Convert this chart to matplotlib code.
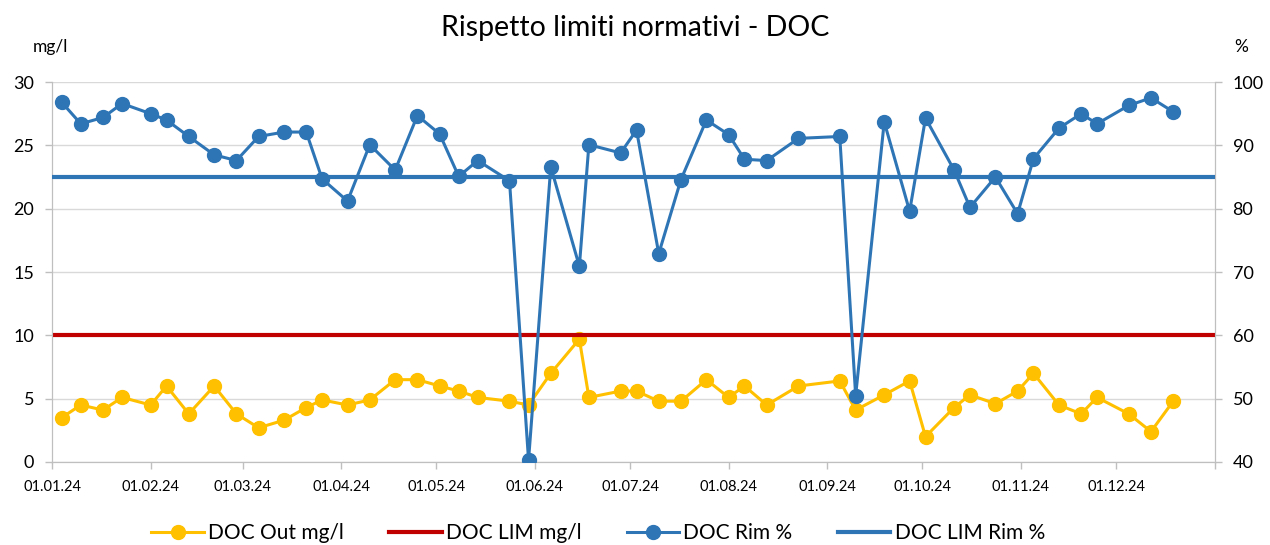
import pandas as pd
import matplotlib.pyplot as plt
import matplotlib.dates as mdates
from matplotlib.lines import Line2D

plt.rcParams['font.family'] = ['Lato', 'DejaVu Sans']

# === Data ===
dates = [
    "2024-01-04", "2024-01-10", "2024-01-17", "2024-01-23", "2024-02-01",
    "2024-02-06", "2024-02-13", "2024-02-21", "2024-02-28", "2024-03-06",
    "2024-03-14", "2024-03-21", "2024-03-26", "2024-04-03", "2024-04-10",
    "2024-04-18", "2024-04-25", "2024-05-02", "2024-05-08", "2024-05-14",
    "2024-05-24", "2024-05-30", "2024-06-06", "2024-06-15", "2024-06-18",
    "2024-06-28", "2024-07-03", "2024-07-10", "2024-07-17", "2024-07-25",
    "2024-08-01", "2024-08-06", "2024-08-13", "2024-08-23", "2024-09-05",
    "2024-09-10", "2024-09-19", "2024-09-27", "2024-10-02", "2024-10-11",
    "2024-10-16", "2024-10-24", "2024-10-31", "2024-11-05", "2024-11-13",
    "2024-11-20", "2024-11-25", "2024-12-05", "2024-12-12", "2024-12-19",
]
doc_out = [
    3.5, 4.5, 4.1, 5.1, 4.5, 6.0, 3.8, 6.0, 3.8, 2.7,
    3.3, 4.3, 4.9, 4.5, 4.9, 6.5, 6.5, 6.0, 5.6, 5.1,
    4.8, 4.5, 7.0, 9.7, 5.1, 5.6, 5.6, 4.8, 4.8, 6.5,
    5.1, 6.0, 4.5, 6.0, 6.4, 4.1, 5.3, 6.4, 2.0, 4.3,
    5.3, 4.6, 5.6, 7.0, 4.5, 3.8, 5.1, 3.8, 2.4, 4.8,
]
doc_rim = [
    96.8, 93.4, 94.4, 96.6, 95.0, 94.0, 91.4, 88.5, 87.6, 91.4,
    92.1, 92.1, 84.7, 81.2, 90.1, 86.1, 94.7, 91.8, 85.1, 87.6,
    84.4, 40.3, 86.6, 70.9, 90.1, 88.8, 92.4, 72.9, 84.6, 94.0,
    91.7, 87.8, 87.6, 91.1, 91.4, 50.5, 93.7, 79.6, 94.3, 86.1,
    80.2, 85.0, 79.2, 87.9, 92.7, 95.0, 93.4, 96.3, 97.5, 95.3,
]
lim_mg = 10
lim_rim = 85

x = pd.to_datetime(dates)
x0, x1 = pd.Timestamp("2024-01-01"), pd.Timestamp("2025-01-01")

# === Colors ===
c_out = '#FFC000'
c_lim = '#C00000'
c_rim = '#2E75B6'
c_grid = '#D9D9D9'
c_axis = '#BFBFBF'

# === Plot ===
fig = plt.figure(figsize=(12.7, 5.45), dpi=100)
ax = fig.add_axes([0.0411, 0.1523, 0.9152, 0.6972])
ax2 = ax.twinx()

ax.plot(x, doc_out, color=c_out, lw=2.2, marker='o', ms=10, zorder=3)
ax.plot([x0, x1], [lim_mg, lim_mg], color=c_lim, lw=3, zorder=3)
ax2.plot(x, doc_rim, color=c_rim, lw=2.2, marker='o', ms=10, zorder=3)
ax2.plot([x0, x1], [lim_rim, lim_rim], color=c_rim, lw=3, zorder=3)

ax.set_xlim(x0, x1)
ax.set_ylim(0, 30)
ax2.set_ylim(40, 100)
ax.set_yticks(range(0, 31, 5))
ax2.set_yticks(range(40, 101, 10))

months = list(pd.date_range("2024-01-01", "2025-01-01", freq="MS"))
ax.set_xticks(months)
ax.set_xticklabels([d.strftime("%d.%m.%y") for d in months[:-1]] + [""])

ax.grid(axis='y', color=c_grid, lw=1)
ax.set_axisbelow(True)

for a in (ax, ax2):
    a.spines['top'].set_visible(False)
    for side in ('left', 'right', 'bottom'):
        a.spines[side].set_color(c_axis)
    a.tick_params(colors=c_axis, length=5, width=1)
ax.tick_params(axis='y', labelsize=13, labelcolor='black', pad=8)
ax.tick_params(axis='x', labelsize=10.5, labelcolor='black', pad=8)
ax2.tick_params(axis='y', labelsize=13, labelcolor='black', pad=8)

# === Labels ===
fig.text(0.5, 0.948, "Rispetto limiti normativi - DOC", ha='center', va='center', fontsize=20.5)
fig.text(0.040, 0.913, "mg/l", ha='center', va='center', fontsize=12.5)
fig.text(0.977, 0.913, "%", ha='center', va='center', fontsize=12.5)

# === Legend ===
handles = [
    Line2D([0], [0], color=c_out, lw=2.2, marker='o', ms=10, label='DOC Out mg/l'),
    Line2D([0], [0], color=c_lim, lw=3, label='DOC LIM mg/l'),
    Line2D([0], [0], color=c_rim, lw=2.2, marker='o', ms=10, label='DOC Rim %'),
    Line2D([0], [0], color=c_rim, lw=3, label='DOC LIM Rim %'),
]
fig.legend(handles=handles, loc='center', bbox_to_anchor=(0.471, 0.022), ncol=4,
           frameon=False, fontsize=15, handlelength=2.5, columnspacing=2.2, handletextpad=0.2)

fig.savefig("out.png", dpi=100)
